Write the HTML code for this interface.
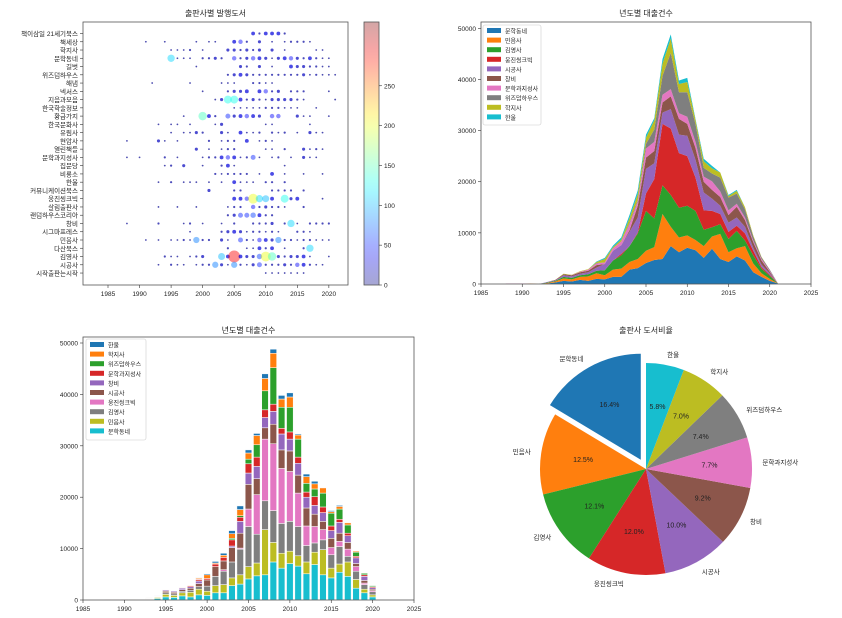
<!DOCTYPE html>
<html><head><meta charset="utf-8">
<style>
body{margin:0;background:#fff;}
svg{display:block;font-family:"Liberation Sans","Noto Sans CJK KR",sans-serif;}
text{fill:#222;}
</style></head>
<body>
<svg id="fig" width="842" height="618" viewBox="0 0 842 618" xmlns="http://www.w3.org/2000/svg"></svg>
<script>
// ---------- shared data (thousands of loans per year) ----------
const years=[1988,1989,1990,1991,1992,1993,1994,1995,1996,1997,1998,1999,2000,2001,2002,2003,2004,2005,2006,2007,2008,2009,2010,2011,2012,2013,2014,2015,2016,2017,2018,2019,2020,2021];
const seriesNames=["문학동네","민음사","김영사","웅진씽크빅","시공사","창비","문학과지성사","위즈덤하우스","학지사","한울"];
const sMunhak=[0,0,0,0,0,0.1,0.3,0.6,0.5,0.8,0.6,1.0,0.9,1.4,1.4,2.8,3.1,4.1,4.7,4.9,7.4,6.2,7.1,6.6,5.1,6.9,4.9,4.3,5.4,4.6,2.3,1.4,0.6,0.1];
const sMineum=[0,0,0,0.1,0,0.1,0.2,0.5,0.4,0.6,0.9,1.1,0.8,1.4,1.6,1.5,1.8,2.4,2.5,8.8,3.8,2.9,2.4,2.0,2.3,2.4,4.9,1.9,1.6,2.8,1.7,0.7,0.4,0];
const sGimyoung=[0,0,0,0,0,0.1,0.1,0.3,0.3,0.3,0.4,0.5,1.0,1.8,2.6,3.1,5.0,7.8,5.6,5.6,6.2,5.8,5.8,5.7,3.2,1.8,1.9,2.6,3.4,1.1,1.6,0.9,0.6,0];
const sWoongjin=[0,0,0,0,0,0,0,0,0,0,0,0,0,0,0.3,0,0.2,3.4,7.7,12.0,13.0,10.7,9.7,6.5,3.8,3.2,2.0,1.4,1.0,1.4,0.9,0.3,0.2,0];
const sSigong=[0,0,0,0,0,0.1,0.1,0.3,0.3,0.3,0.4,0.6,1.2,1.9,1.7,2.8,2.9,4.8,3.1,2.2,3.8,3.6,4.0,3.5,3.5,2.4,1.6,1.8,1.6,1.3,0.6,0.5,0.3,0];
const sChangbi=[0,0,0,0,0,0,0.1,0.2,0.2,0.3,0.3,0.5,0,0,0,0.3,2.3,2.2,2.4,2.0,2.5,3.1,2.3,2.3,2.1,1.7,1.7,1.5,2.1,1.3,1.1,0.8,0.3,0];
const sMunji=[0.1,0.1,0.1,0,0,0,0,0,0.05,0.1,0.2,0.3,0.3,0.5,0.7,1.2,0.8,1.8,1.8,1.5,1.4,1.1,1.4,1.2,1.0,1.7,1.1,0.9,0.6,0.5,0.3,0.3,0.2,0];
const sWisdom=[0,0,0,0,0,0,0,0,0,0,0,0.1,0,0,0,0.3,0.3,0.9,2.4,3.7,7.1,4.1,4.8,3.5,1.7,1.5,2.7,2.5,2.0,1.6,0.8,0.3,0.2,0];
const sHakji=[0,0,0,0,0,0,0,0.1,0.05,0.1,0.1,0.2,0.7,0.2,0.4,0.9,1.2,1.2,1.8,2.4,2.8,1.6,2.0,0.8,1.3,1.0,1.0,0.3,0.5,0.4,0.2,0.1,0,0];
const sHanul=[0,0,0,0,0,0,0,0,0,0,0,0.1,0.2,0.3,0.4,0.6,0.7,0.6,0.4,0.9,0.8,0.7,0.8,0.2,0.5,0.5,0,0.2,0.2,0,0,0,0,0];
const allSeries=[sMunhak,sMineum,sGimyoung,sWoongjin,sSigong,sChangbi,sMunji,sWisdom,sHakji,sHanul];
const yTicks=[0,10000,20000,30000,40000,50000];
const xTicks=[1985,1990,1995,2000,2005,2010,2015,2020,2025];
const tab10=["#1f77b4","#ff7f0e","#2ca02c","#d62728","#9467bd","#8c564b","#e377c2","#7f7f7f","#bcbd22","#17becf"];

// ---------- scatter data ----------
const sLabels=["책이삼일 21세기북스","책세상","학지사","문학동네","길벗","위즈덤하우스","해냄","넥서스","지음과모음","한국학술정보","황금가지","한국문화사","유림사","현암사","열린책들","문학과지성사","집문당","비룡소","한울","커뮤니케이션북스","웅진씽크빅","살림출판사","랜덤하우스코리아","창비","시그마프레스","민음사","다산북스","김영사","시공사","시작출판는시작"];
const sPoints=[
"2008:4 2009:2 2010:4 2011:4 2012:4 2013:2",
"1991:1 1994:1 1999:1 2001:1 2002:1 2005:4 2006:5 2007:2 2009:3 2011:1 2013:1 2014:2 2015:2 2016:2 2017:1",
"1995:1 1996:1 1997:1 1998:2 2000:1 2004:3 2005:3 2006:2 2007:3 2008:2 2009:3 2011:3 2013:1 2018:1 2019:1",
"1995:B 1996:1 1997:1 1998:1 2000:2 2001:2 2002:3 2003:2 2005:5 2006:2 2007:3 2008:5 2009:4 2010:3 2011:1 2012:3 2013:4 2014:5 2015:3 2016:2 2017:4 2018:2 2019:1 2020:1",
"1999:1 2006:3 2007:2 2009:3 2011:1 2014:4 2015:3 2016:3 2017:2 2018:2 2019:1 2020:1",
"2004:2 2005:3 2006:4 2007:3 2008:2 2009:2 2010:2 2011:2 2012:2 2013:2 2014:2 2015:2 2016:3 2017:1 2018:2 2019:1 2020:1 2021:1",
"1992:1 1998:1 2003:1 2004:1 2005:1 2008:2 2009:2 2010:1 2011:1",
"2000:1 2004:2 2005:3 2006:3 2007:4 2009:4 2010:5 2011:2 2012:3 2014:2 2015:2 2016:2 2020:1",
"2002:1 2003:3 2004:C 2005:C 2006:4 2007:2 2008:3 2009:2 2010:1 2011:3 2012:3 2013:3 2014:3 2015:2 2016:1 2021:1",
"2005:1 2006:1 2007:1 2008:1 2009:1 2010:2 2011:2 2012:2 2013:1 2014:1 2015:1 2018:1",
"1997:1 2000:D 2001:4 2002:2 2004:6 2005:3 2006:4 2007:5 2008:4 2009:3 2011:5 2012:5 2015:3 2016:1 2017:1 2020:1",
"1993:1 1995:1 1996:1 1998:1 2002:1 2003:3 2010:1 2011:1 2017:1",
"1995:1 1997:1 1998:1 1999:3 2000:2 2003:3 2004:1 2006:4 2007:1 2008:1 2009:2 2011:2 2012:1 2013:2 2015:1 2017:3 2018:1 2019:1",
"1988:1 1993:3 1994:1 1996:1 2001:2 2003:1 2004:2 2005:2 2007:4 2009:1 2010:2 2011:1",
"1999:3 2001:1 2003:1 2004:2 2005:2 2010:1 2011:1 2013:2 2016:3 2017:1 2018:2 2019:1",
"1988:1 1990:1 1994:2 1996:1 2000:1 2001:2 2002:2 2003:4 2004:5 2005:4 2006:1 2007:2 2008:6 2009:1 2011:1 2012:2 2014:1 2016:3 2017:1 2018:1",
"1994:1 1995:2 1997:3 2000:1 2003:2 2004:4 2005:1 2013:1",
"2002:2 2003:1 2004:2 2005:2 2006:2 2007:2 2009:1 2011:4 2013:1 2016:1 2019:1",
"1993:1 1995:2 1997:1 1998:1 1999:1 2001:1 2003:1 2005:4 2006:1 2007:1 2008:1 2010:2 2011:2 2013:2",
"2001:3 2005:2 2006:2 2011:2 2012:2 2013:2 2014:2 2016:2",
"2005:4 2006:4 2007:5 2008:F 2009:B 2010:A 2011:4 2013:C 2014:3 2015:4 2019:1",
"1993:1 1996:1 1999:1 2004:1 2005:2 2006:2 2008:5 2009:2 2010:3 2011:2 2012:2 2013:1 2016:2",
"2004:2 2005:3 2006:6 2007:6 2008:7 2009:4 2010:2 2011:2",
"1988:1 1993:2 1997:1 1998:2 2000:1 2003:1 2005:2 2008:2 2009:2 2010:2 2011:3 2013:2 2014:B 2015:1 2017:2 2018:2 2019:2 2020:2",
"1998:1 2003:2 2004:3 2005:4 2006:3 2007:1 2008:2 2009:2 2010:1 2011:2 2012:1 2015:2 2016:2 2017:1",
"1991:1 1993:1 1995:1 1996:1 1997:2 1998:1 1999:9 2000:2 2001:2 2003:3 2004:1 2006:6 2007:2 2008:1 2009:5 2010:4 2011:3 2012:9 2013:2 2014:2 2015:1 2016:2 2017:2 2018:1 2019:1 2020:1",
"2004:2 2007:1 2008:1 2009:4 2010:2 2011:4 2013:1 2016:2 2017:B",
"1994:2 1995:1 1996:1 1998:1 1999:2 2000:3 2003:A 2004:4 2005:G 2006:4 2007:3 2008:3 2009:7 2010:F 2011:D 2012:3 2013:2 2014:3 2015:3 2016:4 2017:1 2020:1",
"1993:1 1995:2 1996:1 1997:1 1999:1 2000:2 2001:2 2002:9 2003:3 2004:1 2005:9 2006:2 2007:1 2008:3 2009:6 2010:2 2011:2 2012:2 2013:3 2014:2 2015:5 2016:4 2017:2 2018:1 2019:1",
"2010:1 2011:1 2012:1 2013:1 2014:1 2015:1 2016:1"
];
const codeVal={"1":5,"2":10,"3":20,"4":30,"5":40,"6":50,"7":60,"8":70,"9":80,"A":100,"B":110,"C":130,"D":145,"F":200,"G":290};
const cbTicks=[0,50,100,150,200,250];

// ---------- pie data ----------
const pieLabels=["문학동네","민음사","김영사","웅진씽크빅","시공사","창비","문학과지성사","위즈덤하우스","학지사","한울"];
const pieValues=[16.4,12.5,12.1,12.0,10.0,9.2,7.7,7.4,7.0,5.8];

// ---------- helpers ----------
const NS="http://www.w3.org/2000/svg";
const svg=document.getElementById('fig');
function mk(tag,attrs,parent){const e=document.createElementNS(NS,tag);for(const k in attrs)e.setAttribute(k,attrs[k]);(parent||svg).appendChild(e);return e;}
function txt(x,y,s,size,anchor,parent){const t=mk('text',{x:x,y:y,'font-size':size,'text-anchor':anchor||'middle'},parent);t.textContent=s;return t;}
function jet(t){t=Math.max(0,Math.min(1,t));const c=v=>Math.round(255*Math.max(0,Math.min(1,v)));return `rgb(${c(1.5-Math.abs(4*t-3))},${c(1.5-Math.abs(4*t-2))},${c(1.5-Math.abs(4*t-1))})`;}

// ===== 1. scatter =====
(function(){
 const g=mk('g',{});
 
 
 const L=83,R=348,T=22,B=285;
 const xs=y=>108+(y-1985)*6.31;
 const ys=i=>33.5+i*8.26;
 const vmax=330;
 const ttl=txt((L+R)/2,16,"출판사별 발행도서",8,'middle',g);
 
 
 sPoints.forEach((row,i)=>{
  row.split(' ').forEach(p=>{
   const [yr,code]=p.split(':');const v=codeVal[code];
   const c=mk('circle',{cx:xs(+yr),cy:ys(i),r:Math.max(0.9,0.35*Math.sqrt(v)),fill:jet(v/vmax),'fill-opacity':v<40?0.7:0.45},g);
   
   
  });
 });
 mk('rect',{x:L,y:T,width:R-L,height:B-T,fill:'none',stroke:'#555','stroke-width':0.8},g);
 sLabels.forEach((s,i)=>{
  mk('line',{x1:L-3,x2:L,y1:ys(i),y2:ys(i),stroke:'#333','stroke-width':0.6},g);
  const t=txt(L-5,ys(i)+2.5,s,6.5,'end',g);
  
  
 });
 xTicks.slice(0,8).forEach(y=>{
  mk('line',{x1:xs(y),x2:xs(y),y1:B,y2:B+3,stroke:'#333','stroke-width':0.6},g);
  const t=txt(xs(y),B+11,String(y),6.5,'middle',g);
  
  
 });
 // colorbar
 const cb=mk('g',{},g);
 
 
 const cL=364,cW=15;
 const defs=mk('defs',{},cb);
 const lg=mk('linearGradient',{id:'jetg',x1:0,y1:1,x2:0,y2:0},defs);
 for(let k=0;k<=20;k++)mk('stop',{offset:k/20,'stop-color':jet(k/20)},lg);
 mk('rect',{x:cL,y:T,width:cW,height:B-T,fill:'url(#jetg)','fill-opacity':0.35},cb);
 mk('rect',{x:cL,y:T,width:cW,height:B-T,fill:'none',stroke:'#555','stroke-width':0.8},cb);
 cbTicks.forEach(v=>{
  const y=B-v/vmax*(B-T);
  mk('line',{x1:cL+cW,x2:cL+cW+3,y1:y,y2:y,stroke:'#333','stroke-width':0.6},cb);
  txt(cL+cW+5,y+2.5,String(v),6.5,'start',cb);
 });
})();

// ===== 2. stacked area =====
(function(){
 const g=mk('g',{});
 
 
 const L=481,R=811,T=22,B=284;
 const xs=y=>L+(y-1985)*(R-L)/40;
 const ys=v=>B-v*(B-28.3)/50000;
 const ttl=txt((L+R)/2,16,"년도별 대출건수",8,'middle',g);
 
 
 let base=years.map(()=>0);
 allSeries.forEach((s,si)=>{
  const top=base.map((b,i)=>b+s[i]*1000);
  let d='M'+years.map((y,i)=>xs(y)+','+ys(top[i])).join(' L');
  for(let i=years.length-1;i>=0;i--)d+=' L'+xs(years[i])+','+ys(base[i]);
  d+='Z';
  const p=mk('path',{d:d,fill:tab10[si]},g);
  
  
  base=top;
 });
 mk('rect',{x:L,y:T,width:R-L,height:B-T,fill:'none',stroke:'#555','stroke-width':0.8},g);
 yTicks.forEach(v=>{
  mk('line',{x1:L-3,x2:L,y1:ys(v),y2:ys(v),stroke:'#333','stroke-width':0.6},g);
  txt(L-5,ys(v)+2.5,String(v),6.5,'end',g);
 });
 xTicks.forEach(y=>{
  mk('line',{x1:xs(y),x2:xs(y),y1:B,y2:B+3,stroke:'#333','stroke-width':0.6},g);
  txt(xs(y),B+11,String(y),6.5,'middle',g);
 });
 const lg=mk('g',{},g);
 
 
 mk('rect',{x:483,y:25,width:58,height:100,fill:'#fff','fill-opacity':0.8,stroke:'#ccc','stroke-width':0.6,rx:2},lg);
 seriesNames.forEach((n,i)=>{
  mk('rect',{x:487,y:28+i*9.6,width:14,height:5,fill:tab10[i]},lg);
  txt(505,33.5+i*9.6,n,6,'start',lg);
 });
})();

// ===== 3. stacked bars =====
(function(){
 const g=mk('g',{});
 
 
 const L=83,R=414,T=337,B=600;
 const xs=y=>L+(y-1985)*(R-L)/40;
 const ys=v=>B-v*(B-343)/50000;
 const bw=0.8*(R-L)/40;
 const ttl=txt((L+R)/2,333,"년도별 대출건수",8,'middle',g);
 
 
 let base=years.map(()=>0);
 allSeries.forEach((s,si)=>{
  years.forEach((y,i)=>{
   const v=s[i]*1000;if(v<=0)return;
   const r=mk('rect',{x:xs(y)-bw/2,y:ys(base[i]+v),width:bw,height:ys(base[i])-ys(base[i]+v),fill:tab10[9-si],stroke:'#fff','stroke-width':0.5},g);
   
   
   base[i]+=v;
  });
 });
 mk('rect',{x:L,y:T,width:R-L,height:B-T,fill:'none',stroke:'#555','stroke-width':0.8},g);
 yTicks.forEach(v=>{
  mk('line',{x1:L-3,x2:L,y1:ys(v),y2:ys(v),stroke:'#333','stroke-width':0.6},g);
  txt(L-5,ys(v)+2.5,String(v),6.5,'end',g);
 });
 xTicks.forEach(y=>{
  mk('line',{x1:xs(y),x2:xs(y),y1:B,y2:B+3,stroke:'#333','stroke-width':0.6},g);
  txt(xs(y),B+11,String(y),6.5,'middle',g);
 });
 const lg=mk('g',{},g);
 
 
 mk('rect',{x:86,y:339,width:60,height:101,fill:'#fff','fill-opacity':0.8,stroke:'#ccc','stroke-width':0.6,rx:2},lg);
 seriesNames.slice().reverse().forEach((n,i)=>{
  mk('rect',{x:90,y:342+i*9.6,width:14,height:5,fill:tab10[i]},lg);
  txt(108,347.5+i*9.6,n,6,'start',lg);
 });
})();

// ===== 4. pie =====
(function(){
 const g=mk('g',{});
 
 
 const cx=646,cy=469,r=106;
 const ttl=txt(646,333,"출판사 도서비율",8,'middle',g);
 
 
 const tot=pieValues.reduce((a,b)=>a+b,0);
 let ang=90;
 pieValues.forEach((v,i)=>{
  const sweep=v/tot*360;const a0=ang,a1=ang+sweep,mid=(a0+a1)/2*Math.PI/180;
  const ex=i===0?0.1*r:0;
  const ox=cx+ex*Math.cos(mid),oy=cy-ex*Math.sin(mid);
  const p0=[ox+r*Math.cos(a0*Math.PI/180),oy-r*Math.sin(a0*Math.PI/180)];
  const p1=[ox+r*Math.cos(a1*Math.PI/180),oy-r*Math.sin(a1*Math.PI/180)];
  const d=`M${ox},${oy} L${p0[0]},${p0[1]} A${r},${r} 0 ${sweep>180?1:0} 0 ${p1[0]},${p1[1]} Z`;
  const s=mk('path',{d:d,fill:tab10[i]},g);
  
  
  const pt=txt(ox+0.6*r*Math.cos(mid),oy-0.6*r*Math.sin(mid)+2.5,v.toFixed(1)+'%',7,'middle',g);
  
  
  const lx=ox+1.1*r*Math.cos(mid),ly=oy-1.1*r*Math.sin(mid);
  const lt=txt(lx,ly+2.5,pieLabels[i],6.5,Math.cos(mid)>0.05?'start':(Math.cos(mid)<-0.05?'end':'middle'),g);
  
  
  ang=a1;
 });
})();
</script>
</body></html>
